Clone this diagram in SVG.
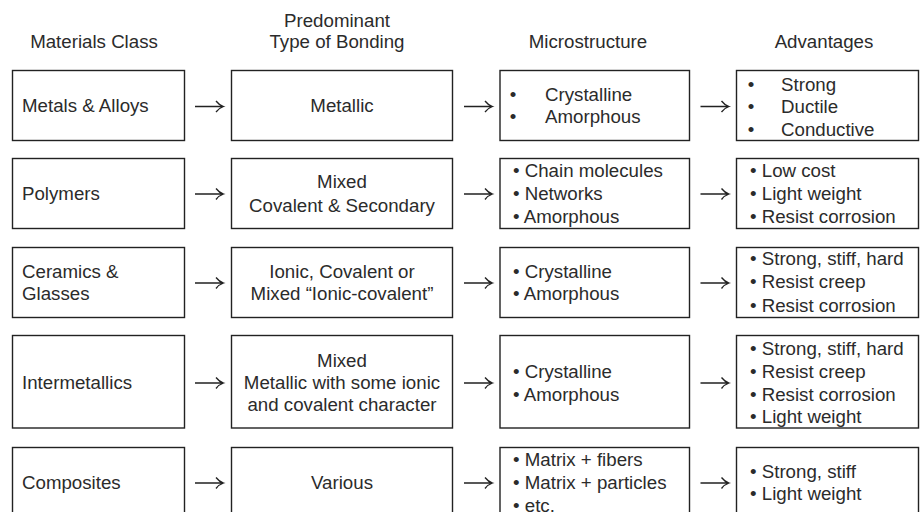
<svg xmlns="http://www.w3.org/2000/svg" width="923" height="512" viewBox="0 0 923 512">
<style>
text{font-family:"Liberation Sans",Arial,sans-serif;font-size:18.7px;fill:#2b2b2b}
.c{text-anchor:middle}
rect{fill:#fff;stroke:#222;stroke-width:1.4}
.arr{fill:none;stroke:#222;stroke-width:1.3}
</style>
<rect x="0" y="0" width="923" height="512" style="stroke:none"/>
<g id="headers">
<text class="c" x="94" y="48">Materials Class</text>
<text class="c" x="337" y="27">Predominant</text>
<text class="c" x="337" y="48">Type of Bonding</text>
<text class="c" x="588" y="48">Microstructure</text>
<text class="c" x="824" y="48">Advantages</text>
</g>
<g id="metals-class"><rect x="12.5" y="70.5" width="172" height="70"/><text x="22" y="112">Metals &amp; Alloys</text></g>
<g id="metals-bonding"><rect x="231.5" y="70.5" width="221" height="70"/><text class="c" x="342" y="112">Metallic</text></g>
<g id="metals-micro"><rect x="500" y="70.5" width="189.5" height="70"/>
<text class="c" x="513" y="100.5">•</text><text x="545" y="100.5">Crystalline</text>
<text class="c" x="513" y="123.3">•</text><text x="545" y="123.3">Amorphous</text></g>
<g id="metals-adv"><rect x="736.5" y="70.5" width="182" height="70"/>
<text class="c" x="751" y="90.7">•</text><text x="781" y="90.7">Strong</text>
<text class="c" x="751" y="113.3">•</text><text x="781" y="113.3">Ductile</text>
<text class="c" x="751" y="136">•</text><text x="781" y="136">Conductive</text></g>

<g id="polymers-class"><rect x="12.5" y="158.5" width="172" height="70"/><text x="22" y="200">Polymers</text></g>
<g id="polymers-bonding"><rect x="231.5" y="158.5" width="221" height="70"/><text class="c" x="342" y="188.3">Mixed</text><text class="c" x="342" y="211.5">Covalent &amp; Secondary</text></g>
<g id="polymers-micro"><rect x="500" y="158.5" width="189.5" height="70"/>
<text x="513" y="177.3">• Chain molecules</text><text x="513" y="200">• Networks</text><text x="513" y="223">• Amorphous</text></g>
<g id="polymers-adv"><rect x="736.5" y="158.5" width="182" height="70"/>
<text x="750" y="177.3">• Low cost</text><text x="750" y="200">• Light weight</text><text x="750" y="223">• Resist corrosion</text></g>

<g id="ceramics-class"><rect x="12.5" y="247.5" width="172" height="70"/><text x="22" y="278.3">Ceramics &amp;</text><text x="22" y="300">Glasses</text></g>
<g id="ceramics-bonding"><rect x="231.5" y="247.5" width="221" height="70"/><text class="c" x="342" y="278.3">Ionic, Covalent or</text><text class="c" x="342" y="300">Mixed “Ionic-covalent”</text></g>
<g id="ceramics-micro"><rect x="500" y="247.5" width="189.5" height="70"/>
<text x="513" y="278.3">• Crystalline</text><text x="513" y="300">• Amorphous</text></g>
<g id="ceramics-adv"><rect x="736.5" y="247.5" width="182" height="70"/>
<text x="750" y="265">• Strong, stiff, hard</text><text x="750" y="288.3">• Resist creep</text><text x="750" y="311.5">• Resist corrosion</text></g>

<g id="intermetallics-class"><rect x="12.5" y="335.5" width="172" height="92.5"/><text x="22" y="389.3">Intermetallics</text></g>
<g id="intermetallics-bonding"><rect x="231.5" y="335.5" width="221" height="92.5"/><text class="c" x="342" y="366.7">Mixed</text><text class="c" x="342" y="389.3">Metallic with some ionic</text><text class="c" x="342" y="410.7">and covalent character</text></g>
<g id="intermetallics-micro"><rect x="500" y="335.5" width="189.5" height="92.5"/>
<text x="513" y="378.3">• Crystalline</text><text x="513" y="400.7">• Amorphous</text></g>
<g id="intermetallics-adv"><rect x="736.5" y="335.5" width="182" height="92.5"/>
<text x="750" y="355">• Strong, stiff, hard</text><text x="750" y="378.3">• Resist creep</text><text x="750" y="400.7">• Resist corrosion</text><text x="750" y="423.3">• Light weight</text></g>

<g id="composites-class"><rect x="12.5" y="447.5" width="172" height="70"/><text x="22" y="489.3">Composites</text></g>
<g id="composites-bonding"><rect x="231.5" y="447.5" width="221" height="70"/><text class="c" x="342" y="489.3">Various</text></g>
<g id="composites-micro"><rect x="500" y="447.5" width="189.5" height="70"/>
<text x="513" y="465.7">• Matrix + fibers</text><text x="513" y="489.3">• Matrix + particles</text><text x="513" y="512">• etc.</text></g>
<g id="composites-adv"><rect x="736.5" y="447.5" width="182" height="70"/>
<text x="750" y="477.7">• Strong, stiff</text><text x="750" y="500">• Light weight</text></g>

<defs>
<path id="a" class="arr" d="M0,0 H28.5 M21,-5.5 Q24,-1.5 28.5,0 Q24,1.5 21,5.5"/>
</defs>
<g id="connectors">
<use href="#a" x="195" y="106.5"/><use href="#a" x="464" y="106.5"/><use href="#a" x="700.5" y="106.5"/>
<use href="#a" x="195" y="194"/><use href="#a" x="464" y="194"/><use href="#a" x="700.5" y="194"/>
<use href="#a" x="195" y="283"/><use href="#a" x="464" y="283"/><use href="#a" x="700.5" y="283"/>
<use href="#a" x="195" y="383"/><use href="#a" x="464" y="383"/><use href="#a" x="700.5" y="383"/>
<use href="#a" x="195" y="483"/><use href="#a" x="464" y="483"/><use href="#a" x="700.5" y="483"/>
</g>
</svg>
